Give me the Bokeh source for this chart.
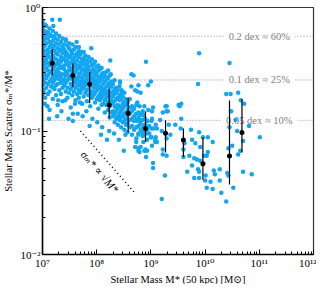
from bokeh.plotting import figure
from bokeh.models import Range1d, FixedTicker, Title
from bokeh.embed import file_html
from bokeh.resources import INLINE
from bokeh.core.properties import value

# ---------------- data (log10 values) ----------------
# dense cloud of galaxies: log10 M* column -> list of log10 (sigma/M*)
cloud_low = {
    7.00: [-0.11, -0.17, -0.21, -0.27, -0.33, -0.36, -0.41, -0.47, -0.50, -0.56, -0.63, -0.72],
    7.02: [-0.14, -0.24, -0.30, -0.38, -0.44, -0.52, -0.59, -0.67],
    7.04: [-0.19, -0.26, -0.31, -0.35, -0.43, -0.46, -0.54, -0.61, -0.78],
    7.07: [-0.15, -0.22, -0.29, -0.39, -0.42, -0.49, -0.57, -0.65],
    7.10: [-0.20, -0.25, -0.34, -0.37, -0.45, -0.51, -0.55, -0.62, -0.70],
    7.13: [-0.17, -0.28, -0.32, -0.40, -0.47, -0.53, -0.60, -0.68, -0.83],
    7.16: [-0.23, -0.30, -0.36, -0.43, -0.46, -0.52, -0.58, -0.64],
    7.19: [-0.19, -0.27, -0.33, -0.39, -0.44, -0.50, -0.56, -0.61, -0.74],
    7.22: [-0.25, -0.31, -0.35, -0.41, -0.48, -0.54, -0.59, -0.66],
    7.25: [-0.21, -0.29, -0.37, -0.42, -0.46, -0.52, -0.57, -0.63, -0.71],
    7.28: [-0.26, -0.33, -0.38, -0.45, -0.50, -0.55, -0.62, -0.79],
    7.31: [-0.23, -0.30, -0.35, -0.43, -0.47, -0.53, -0.58, -0.67],
    7.34: [-0.28, -0.34, -0.40, -0.44, -0.49, -0.56, -0.61, -0.70],
    7.37: [-0.25, -0.32, -0.37, -0.42, -0.48, -0.54, -0.60, -0.65, -0.76],
    7.40: [-0.30, -0.34, -0.41, -0.47, -0.50, -0.58, -0.63],
    7.43: [-0.27, -0.36, -0.39, -0.44, -0.52, -0.55, -0.61, -0.68],
    7.46: [-0.31, -0.38, -0.43, -0.46, -0.54, -0.59, -0.65, -0.73],
    7.49: [-0.29, -0.33, -0.40, -0.48, -0.51, -0.57, -0.69],
}
cloud_mid = {
    7.52: [-0.35, -0.39, -0.45, -0.49, -0.56, -0.62, -0.66, -0.81],
    7.55: [-0.30, -0.37, -0.42, -0.50, -0.53, -0.58, -0.64, -0.71],
    7.58: [-0.34, -0.41, -0.44, -0.48, -0.55, -0.61, -0.68],
    7.61: [-0.32, -0.39, -0.46, -0.52, -0.57, -0.60, -0.65, -0.75],
    7.64: [-0.37, -0.43, -0.47, -0.50, -0.58, -0.63, -0.70],
    7.67: [-0.35, -0.40, -0.49, -0.54, -0.56, -0.62, -0.67, -0.73],
    7.70: [-0.38, -0.45, -0.48, -0.53, -0.60, -0.64, -0.69],
    7.73: [-0.36, -0.42, -0.46, -0.51, -0.57, -0.62, -0.66, -0.78],
    7.76: [-0.41, -0.44, -0.50, -0.55, -0.59, -0.65, -0.72],
    7.79: [-0.39, -0.47, -0.52, -0.54, -0.61, -0.63, -0.69],
    7.82: [-0.43, -0.46, -0.50, -0.57, -0.60, -0.67, -0.76],
    7.85: [-0.40, -0.48, -0.53, -0.56, -0.62, -0.66, -0.71],
    7.88: [-0.44, -0.51, -0.55, -0.59, -0.63, -0.70, -0.80],
    7.91: [-0.42, -0.47, -0.53, -0.58, -0.61, -0.68, -0.73],
    7.94: [-0.46, -0.50, -0.57, -0.60, -0.65, -0.71],
    7.97: [-0.44, -0.52, -0.55, -0.62, -0.64, -0.69, -0.77],
    8.00: [-0.48, -0.53, -0.59, -0.63, -0.67, -0.74],
    8.03: [-0.47, -0.51, -0.56, -0.61, -0.66, -0.72, -0.82],
    8.06: [-0.50, -0.57, -0.60, -0.64, -0.70, -0.75],
    8.09: [-0.49, -0.54, -0.58, -0.65, -0.68, -0.73, -0.79],
    8.12: [-0.53, -0.56, -0.62, -0.67, -0.71, -0.78],
    8.15: [-0.55, -0.60, -0.66, -0.69, -0.75, -0.85],
    8.18: [-0.52, -0.58, -0.64, -0.70, -0.73, -0.79],
    8.21: [-0.57, -0.62, -0.68, -0.71, -0.77, -0.83],
    8.24: [-0.55, -0.61, -0.65, -0.72, -0.76, -0.80, -0.89],
    8.27: [-0.60, -0.64, -0.69, -0.75, -0.78, -0.85],
}
cloud_high = {
    8.30: [-0.62, -0.68, -0.72, -0.77, -0.84, -0.88],
    8.33: [-0.59, -0.66, -0.70, -0.76, -0.80, -0.86, -0.93],
    8.36: [-0.65, -0.69, -0.74, -0.81, -0.84, -0.90],
    8.39: [-0.67, -0.73, -0.79, -0.82, -0.88, -0.95],
    8.42: [-0.64, -0.71, -0.75, -0.80, -0.86, -0.91],
    8.45: [-0.70, -0.74, -0.81, -0.84, -0.89, -0.97],
    8.48: [-0.72, -0.78, -0.82, -0.88, -0.93],
    8.51: [-0.69, -0.76, -0.80, -0.86, -0.92, -0.99],
    8.54: [-0.74, -0.79, -0.85, -0.90, -0.95],
    8.57: [-0.77, -0.83, -0.87, -0.94, -1.01],
    8.61: [-0.74, -0.81, -0.86, -0.91, -0.97],
    8.65: [-0.80, -0.84, -0.90, -0.96, -1.03],
    8.69: [-0.82, -0.88, -0.92, -0.99],
    8.73: [-0.79, -0.86, -0.91, -0.97, -1.06],
    8.77: [-0.85, -0.89, -0.96, -1.02],
    8.81: [-0.87, -0.94, -0.99],
    8.85: [-0.84, -0.91, -0.97, -1.04],
    8.89: [-0.90, -0.95, -1.01],
    8.93: [-0.92, -0.99, -1.07],
    8.97: [-0.96, -1.02],
    9.01: [-0.92, -0.98, -1.05],
}
# individually read, more isolated galaxies: (log10 M*, log10 sigma/M*)
outliers = [
    (7.32, -0.10), (7.20, -0.15), (7.05, -0.14), (7.04, -0.21), (7.14, -0.22), (7.22, -0.23),
    (7.43, -0.26), (7.63, -0.28), (7.67, -0.32), (7.76, -0.36), (7.90, -0.33), (8.25, -0.43),
    (8.05, -0.49), (8.21, -0.51), (8.26, -0.54), (8.91, -0.44), (8.68, -0.55), (8.64, -0.54),
    (9.00, -0.60), (8.77, -0.63), (8.95, -0.63), (8.64, -0.64), (8.71, -0.67), (8.46, -0.67),
    (8.43, -0.60), (8.43, -0.61), (7.18, -0.10),
    (7.02, -0.69), (7.05, -0.73), (7.09, -0.80), (7.20, -0.65), (7.29, -0.75), (7.42, -0.75),
    (7.60, -0.78), (7.69, -0.77), (7.56, -0.86), (7.65, -0.86), (7.74, -0.88), (7.81, -0.84),
    (7.92, -0.90), (8.01, -0.93), (8.10, -0.97), (7.87, -0.96), (8.23, -1.00), (8.08, -1.03),
    (8.19, -1.07), (8.32, -1.02), (8.41, -1.07), (8.53, -1.03), (8.50, -1.16), (8.71, -1.13),
    (8.77, -1.16), (8.90, -1.15), (9.08, -1.09), (9.09, -1.05),
    (7.35, -0.84), (7.48, -0.90), (7.27, -0.88), (7.12, -0.90), (7.56, -0.92),
    (8.75, -0.68), (8.81, -0.69), (8.75, -0.77), (8.79, -0.80), (8.88, -0.80), (8.95, -0.83),
    (9.04, -0.81), (9.02, -0.84), (8.82, -0.86), (8.86, -0.87), (8.75, -0.92), (8.81, -0.91),
    (8.93, -0.92), (9.02, -0.90), (9.09, -0.95), (9.17, -0.91), (9.04, -0.98), (9.11, -0.98),
    (9.20, -1.00), (8.77, -1.03), (8.84, -1.01), (8.91, -1.02), (9.00, -1.05), (9.08, -1.07),
    (9.11, -1.09), (8.73, -1.09), (8.86, -1.09), (8.81, -1.13), (8.88, -1.16), (8.77, -1.14),
    (8.79, -1.17), (8.93, -1.16), (8.91, -1.21), (9.02, -1.12), (9.04, -1.26), (9.04, -1.30),
    (9.20, -1.55), (9.26, -1.36), (9.22, -1.15), (9.29, -1.20), (9.22, -1.19), (9.29, -1.06),
    (9.36, -1.03), (9.33, -0.95), (9.22, -0.85), (9.29, -0.84), (9.29, -0.80), (9.53, -0.80),
    (9.56, -0.78), (9.45, -0.95), (9.56, -0.90), (9.55, -0.98), (9.62, -1.10), (9.60, -1.15),
    (9.60, -1.21), (9.74, -0.99), (9.76, -1.07), (9.82, -1.10), (9.89, -1.01), (9.96, -1.05),
    (10.05, -1.05), (10.14, -1.09), (9.91, -1.13), (10.05, -1.17), (10.03, -1.20), (9.98, -1.20),
    (9.91, -1.24), (9.80, -1.22), (9.71, -1.20), (9.85, -1.23), (9.76, -1.28), (9.87, -1.31),
    (9.89, -1.33), (9.67, -1.33), (9.80, -1.38), (9.89, -1.38), (10.01, -1.36), (10.10, -1.41),
    (10.18, -1.35), (10.16, -1.32), (10.27, -1.31), (10.27, -1.40), (10.03, -1.46), (10.14, -1.47),
    (10.00, -1.40), (9.89, -0.37), (9.87, -0.62), (10.45, -0.45), (10.39, -0.70), (10.47, -0.70),
    (10.61, -0.69), (10.72, -0.78), (10.66, -0.75), (10.48, -0.84), (10.56, -0.91), (10.81, -0.96),
    (10.45, -0.97), (10.59, -1.00), (10.70, -1.08), (11.01, -1.05), (10.50, -1.12), (10.65, -1.16),
    (10.61, -1.19), (10.43, -1.14), (10.70, -1.33), (10.86, -1.35), (10.41, -1.34), (10.43, -1.36),
    (10.52, -1.46), (10.39, -1.57), (10.30, -1.50), (9.27, -0.80), (9.31, -0.84), (9.51, -0.79),
]

# binned medians with 16-84 percentile ranges
bin_logm = [7.18, 7.56, 7.87, 8.23, 8.58, 8.90, 9.27, 9.60, 9.96, 10.45, 10.68]
bin_median = [0.353, 0.281, 0.239, 0.162, 0.139, 0.105, 0.0957, 0.0846, 0.0544, 0.0627, 0.0974]
bin_low = [0.281, 0.227, 0.168, 0.127, 0.098, 0.082, 0.067, 0.0615, 0.0403, 0.0369, 0.067]
bin_high = [0.46, 0.353, 0.301, 0.219, 0.185, 0.144, 0.122, 0.105, 0.089, 0.177, 0.181]

# reference scatter levels (dex -> fraction) and their labels
ref_dex = [0.2, 0.1, 0.05]
ref_labels = ["0.2 dex \u2248 60%", "0.1 dex \u2248 25%", "0.05 dex \u2248 10%"]
ref_label_logm = 11.0

# sqrt(M) scaling guide: endpoints in log10 M*, anchor and slope
guide_logm = [7.70, 8.70]
guide_anchor_logsig = -1.0
guide_slope = -0.5
guide_label = "\u03c3\u2098* \u221d \u221aM*"
guide_label_pos = (8.06, -1.33)

x_decades = [7, 8, 9, 10, 11, 12]
x_tick_labels = ["10\u2077", "10\u2078", "10\u2079", "10\u00b9\u2070", "10\u00b9\u00b9", "10\u00b9\u00b2"]
y_decades = [-2, -1, 0]
y_tick_labels = ["10\u207b\u00b2", "10\u207b\u00b9", "10\u2070"]
x_label = "Stellar Mass M* (50 kpc) [M\u2299]"
y_label = "Stellar Mass Scatter \u03c3\u2098*/M*"

# ---------------- build ----------------
gx, gy = [], []
for cloud in (cloud_low, cloud_mid, cloud_high):
    for lm, sigs in cloud.items():
        for s in sigs:
            gx.append(10 ** lm)
            gy.append(10 ** s)
for lm, s in outliers:
    gx.append(10 ** lm)
    gy.append(10 ** s)

FONT = "Liberation Serif, DejaVu Serif, DejaVu Sans"

p = figure(width=316, height=284, x_axis_type="log", y_axis_type="log",
           x_range=Range1d(1e7, 1e12), y_range=Range1d(1e-2, 1e0),
           output_backend="svg", toolbar_location=None,
           min_border_top=7, min_border_right=3, min_border_left=2, min_border_bottom=0)
p.background_fill_color = "white"
p.border_fill_color = "white"
p.grid.visible = False
p.outline_line_color = "#333333"
p.outline_line_width = 1.2

# reference horizontal dotted lines
ref_levels = [10 ** d - 1 for d in ref_dex]
for lvl in ref_levels:
    p.line([1e7, 1e12], [lvl, lvl], line_color="#8c8c8c", line_width=1, line_dash="1 2")
p.text(x=[10 ** ref_label_logm] * len(ref_levels), y=ref_levels, text=ref_labels,
       text_font=value(FONT), text_font_size="10.5px", text_color="#808080",
       text_align="center", text_baseline="middle",
       background_fill_color="white", padding=5)

# sqrt guide line
gly = [10 ** (guide_anchor_logsig + guide_slope * (lm - guide_logm[0])) for lm in guide_logm]
p.line([10 ** lm for lm in guide_logm], gly, line_color="black", line_width=1.5, line_dash="1 3")
p.text(x=[10 ** guide_label_pos[0]], y=[10 ** guide_label_pos[1]], text=[guide_label],
       angle=-49, angle_units="deg", text_font=value(FONT), text_font_style="italic",
       text_font_size="11px", text_color="black", text_align="center", text_baseline="middle")

# galaxies
p.scatter(gx, gy, size=4.5, fill_color="#12a6f2", line_color=None)

# binned medians
bx = [10 ** v for v in bin_logm]
p.segment(x0=bx, y0=bin_low, x1=bx, y1=bin_high, line_color="black", line_width=1.2)
p.scatter(bx, bin_median, size=5, fill_color="black", line_color=None)

# axes
def log_ticker(decades):
    major = [10.0 ** d for d in decades]
    minor = [k * 10.0 ** d for d in decades[:-1] for k in range(2, 10)]
    return FixedTicker(ticks=major, minor_ticks=minor)

p.xaxis[0].ticker = log_ticker(x_decades)
p.yaxis[0].ticker = log_ticker(y_decades)
p.xaxis[0].major_label_overrides = {10.0 ** d: t for d, t in zip(x_decades, x_tick_labels)}
p.yaxis[0].major_label_overrides = {10.0 ** d: t for d, t in zip(y_decades, y_tick_labels)}

for ax in (p.xaxis[0], p.yaxis[0]):
    ax.axis_line_color = "black"
    ax.axis_line_width = 1.5
    ax.major_tick_in = 5
    ax.major_tick_out = 0
    ax.minor_tick_in = 3
    ax.minor_tick_out = 0
    ax.major_tick_line_color = "black"
    ax.minor_tick_line_color = "black"
    ax.major_label_text_font = FONT
    ax.major_label_text_font_size = "11px"
    ax.major_label_text_color = "black"
    ax.axis_label_text_font = FONT
    ax.axis_label_text_font_size = "10.5px"
    ax.axis_label_text_font_style = "normal"
    ax.axis_label_text_color = "black"
    ax.major_label_standoff = 2
    ax.axis_label_standoff = 3

p.yaxis[0].axis_label = y_label
xt = Title(text=x_label, align="center", text_font=FONT, text_font_size="10.5px",
           text_font_style="normal", text_color="black", standoff=0, offset=0)
p.add_layout(xt, "below")

open("out.html", "w").write(file_html(p, INLINE))
